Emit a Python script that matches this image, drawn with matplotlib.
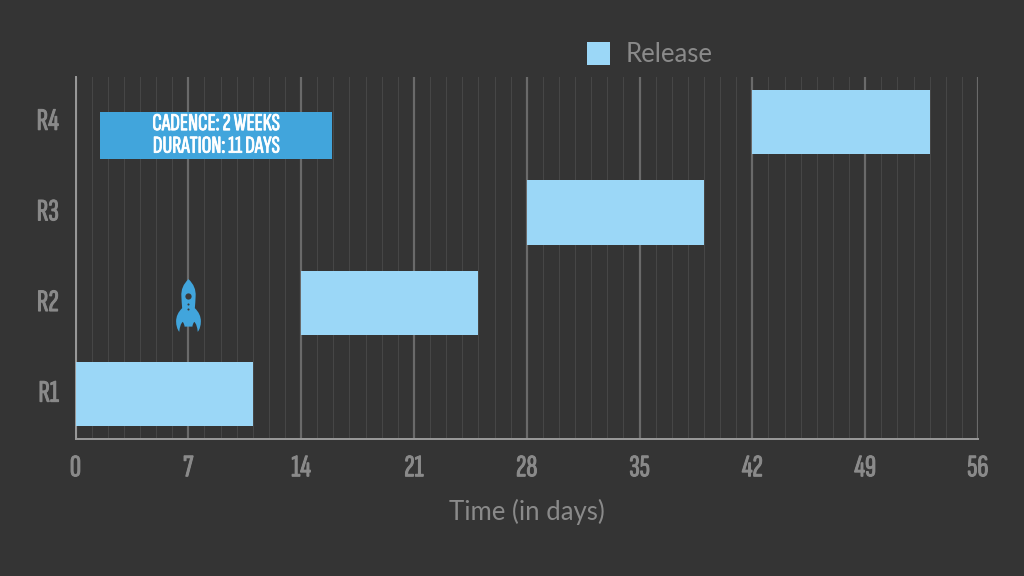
import numpy as np
import matplotlib
matplotlib.use('Agg')
import matplotlib.pyplot as plt
import matplotlib.patheffects as pe
from matplotlib.path import Path
from matplotlib.patches import Patch, Rectangle

# Release data
releases = ['R1', 'R2', 'R3', 'R4']
start_days = [0, 14, 28, 42]
durations = [11, 11, 11, 11]
x_ticks = [0, 7, 14, 21, 28, 35, 42, 49, 56]

bg = '#343434'
light_blue = '#9bd7f7'
mid_blue = '#41a5dc'
grey = '#8a8a8a'
narrow = ['Sofia Sans Extra Condensed', 'Roboto', 'DejaVu Sans']

fig = plt.figure(figsize=(10.24, 5.76), dpi=100, facecolor=bg)
ax = fig.add_axes([75.5/1024, 137/576, 902.5/1024, 362.5/576], facecolor=bg)

bars = ax.barh(releases, durations, left=start_days, height=0.71, color=light_blue, zorder=3)

ax.set_xlim(0, 56)
ax.set_ylim(-0.5, 3.5)

# Grid lines, one thick per week and one thin per day
ax.set_xticks(x_ticks)
ax.set_xticks(np.arange(0, 57), minor=True)
ax.grid(True, axis='x', which='major', color='#6a6a6a', linewidth=1.6, zorder=1)
ax.grid(True, axis='x', which='minor', color='#474747', linewidth=0.7, zorder=1)
ax.set_axisbelow(True)

for side in ['top', 'right']:
    ax.spines[side].set_visible(False)
for side in ['left', 'bottom']:
    ax.spines[side].set_color('#9a9a9a')
    ax.spines[side].set_linewidth(1.4)

ax.tick_params(axis='both', which='both', length=0)
ax.tick_params(axis='x', pad=11)
ax.tick_params(axis='y', pad=12)
# the condensed font has no bold, so thicken it with a stroke
for lab in ax.get_xticklabels() + ax.get_yticklabels():
    lab.set_family(narrow)
    lab.set_fontsize(22.5)
    lab.set_color(grey)
    lab.set_path_effects([pe.withStroke(linewidth=0.7, foreground=grey)])
for lab in ax.get_yticklabels():
    lab.set_verticalalignment('center')

ax.set_xlabel('Time (in days)', family='Lato', fontsize=18.5, color=grey, labelpad=12)

# Info box
ax.add_patch(Rectangle((1.55, 2.59), 14.35, 0.52, facecolor=mid_blue, edgecolor='none', zorder=4))
ax.text(8.72, 2.85, 'CADENCE: 2 WEEKS\nDURATION: 11 DAYS', ha='center', va='center',
        family=narrow, fontsize=17.5, color='white', linespacing=1.03, zorder=5,
        path_effects=[pe.withStroke(linewidth=0.6, foreground='white')])

# Rocket marker
M, C = Path.MOVETO, Path.CURVE3
rocket = Path(
    [(0, 1), (-0.3, 0.72), (-0.27, 0.35), (-0.26, 0.1), (-0.24, -0.1), (-0.47, -0.32), (-0.47, -0.6),
     (-0.47, -0.85), (-0.35, -1), (-0.33, -0.72), (-0.22, -0.62), (-0.15, -0.7), (-0.15, -0.8),
     (0, -0.8), (0.15, -0.8), (0.15, -0.7), (0.22, -0.62), (0.33, -0.72), (0.35, -1),
     (0.47, -0.85), (0.47, -0.6), (0.47, -0.32), (0.24, -0.1), (0.26, 0.1), (0.27, 0.35), (0.3, 0.72), (0, 1)],
    [M] + [C] * 26)
ax.plot([6.98], [0.98], marker=rocket, markersize=38, color=mid_blue, markeredgecolor='none', zorder=4)
ax.plot([6.98], [1.08], marker='o', markersize=4.5, color='#3a3a3a', markeredgecolor='none', zorder=5)
ax.plot([6.98, 6.98], [0.99, 0.94], linestyle='none', marker='o', markersize=1.5, color='#3a3a3a',
        markeredgecolor='none', zorder=5)

# Legend
handle = Patch(facecolor=light_blue, edgecolor='none', label='Release')
leg = fig.legend(handles=[handle], loc='center', bbox_to_anchor=(649.5/1024, 1 - 54.5/576), frameon=False,
                 prop={'family': 'Lato', 'size': 18.5}, handlelength=0.93, handleheight=1.05, handletextpad=0.58)
for t in leg.get_texts():
    t.set_color(grey)

fig.savefig('out.png', dpi=100, facecolor=bg)
